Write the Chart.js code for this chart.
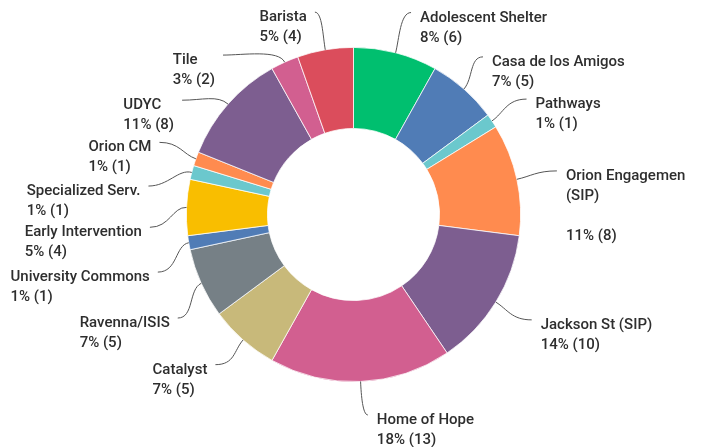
<!DOCTYPE html>
<html>
<head>
<meta charset="utf-8">
<script src="https://cdn.jsdelivr.net/npm/chart.js@4"></script>
<style>
  html, body { margin: 0; padding: 0; background: #fff; }
  #wrap { width: 702px; height: 447px; position: relative; }
</style>
</head>
<body>
<div id="wrap"><canvas id="donut"></canvas></div>
<script>
// data
const categories = [
  'Adolescent Shelter', 'Casa de los Amigos', 'Pathways', 'Orion Engagemen\n(SIP)\n',
  'Jackson St (SIP)', 'Home of Hope', 'Catalyst', 'Ravenna/ISIS', 'University Commons',
  'Early Intervention', 'Specialized Serv.', 'Orion CM', 'UDYC', 'Tile', 'Barista'
]
const counts = [6, 5, 1, 8, 10, 13, 5, 5, 1, 4, 1, 1, 8, 2, 4]

// styling
const sliceColors = [
  '#00BF6F', '#507CB6', '#6BC8CD', '#FF8B4F', '#7D5E90', '#D25F90', '#C8B97A',
  '#768086', '#507CB6', '#F9BE00', '#6BC8CD', '#FF8B4F', '#7D5E90', '#D25F90', '#DB4D5C'
]
// where each leader line ends: [angle from top in degrees, distance from centre]
const leaderEnds = [
  [15.9, 210], [39.4, 204], [56.3, 208], [77.9, 208], [120.6, 207], [175.9, 201],
  [222.6, 204], [239.5, 204], [253.6, 204], [266.4, 204], [277.9, 207], [290.4, 207],
  [303.7, 206], [320.7, 206], [349.2, 206]
]

const total = counts.reduce((a, b) => a + b, 0)
const FONT = '500 15px Roboto'

const outsideLabels = {
  id: 'outsideLabels',
  afterDraw(chart) {
    const { ctx } = chart
    const arcs = chart.getDatasetMeta(0).data
    ctx.save()
    ctx.font = FONT
    arcs.forEach((arc, i) => {
      const { x, y, startAngle, endAngle, outerRadius } = arc.getProps(['x', 'y', 'startAngle', 'endAngle', 'outerRadius'], true)
      const mid = (startAngle + endAngle) / 2
      const ax = x + Math.cos(mid) * outerRadius
      const ay = y + Math.sin(mid) * outerRadius
      const th = leaderEnds[i][0] * Math.PI / 180
      const ex = x + Math.sin(th) * leaderEnds[i][1]
      const ey = y - Math.cos(th) * leaderEnds[i][1]
      const dir = ex >= x ? 1 : -1
      const h = Math.min(20, Math.abs(ex - ax) * 0.7)

      ctx.beginPath()
      ctx.moveTo(ax, ay)
      ctx.bezierCurveTo(ax + Math.cos(mid) * 14, ay + Math.sin(mid) * 14, ex - dir * h, ey, ex, ey)
      ctx.strokeStyle = '#555'
      ctx.lineWidth = 1
      ctx.stroke()

      const lines = categories[i].split('\n')
      lines.push(Math.round(counts[i] / total * 100) + '% (' + counts[i] + ')')
      const w = Math.max(...lines.map(l => ctx.measureText(l).width))
      const tx = dir > 0 ? ex + 9 : ex - 8 - w
      ctx.fillStyle = '#2e2e2e'
      ctx.textAlign = 'left'
      ctx.textBaseline = 'alphabetic'
      lines.forEach((l, k) => ctx.fillText(l, tx, ey + 9 + k * 20))
    })
    ctx.restore()
  }
}

new Chart(document.getElementById('donut'), {
  type: 'doughnut',
  data: {
    labels: categories,
    datasets: [{
      data: counts,
      backgroundColor: sliceColors,
      borderColor: '#fff',
      borderWidth: 0.75
    }]
  },
  options: {
    responsive: true,
    maintainAspectRatio: false,
    animation: false,
    cutout: '51.5%',
    layout: { padding: { top: 47, bottom: 65, left: 186, right: 181 } },
    plugins: {
      legend: { display: false },
      tooltip: { enabled: false }
    }
  },
  plugins: [outsideLabels]
})
</script>
</body>
</html>
